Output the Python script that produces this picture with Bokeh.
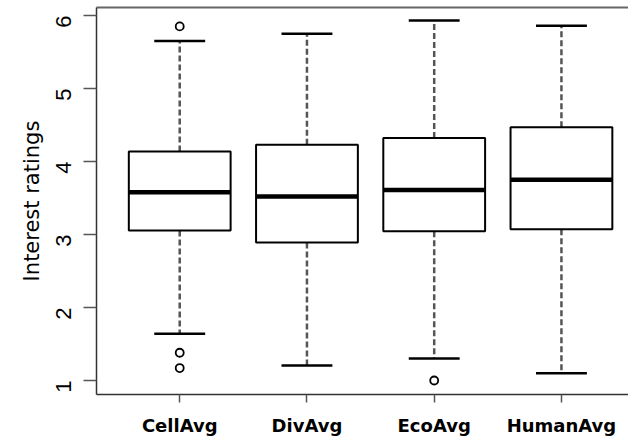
import math
from bokeh.plotting import figure
from bokeh.models import Range1d, FixedTicker, LinearAxis, ColumnDataSource
from bokeh.embed import file_html
from bokeh.resources import INLINE

categories = ["CellAvg", "DivAvg", "EcoAvg", "HumanAvg"]
lower_whisker = [1.64, 1.205, 1.30, 1.10]
q1 = [3.055, 2.89, 3.045, 3.07]
median = [3.58, 3.52, 3.61, 3.75]
q3 = [4.137, 4.23, 4.32, 4.47]
upper_whisker = [5.65, 5.75, 5.93, 5.86]
outlier_cat = ["CellAvg", "CellAvg", "CellAvg", "EcoAvg"]
outlier_val = [5.85, 1.38, 1.17, 1.0]
y_ticks = [1, 2, 3, 4, 5, 6]

box_w = 0.8
staple_w = 0.4

pos = [i + 1 for i in range(len(categories))]
src = ColumnDataSource(dict(
    x=pos,
    xl=[p_ - box_w / 2 for p_ in pos],
    xr=[p_ + box_w / 2 for p_ in pos],
    sl=[p_ - staple_w / 2 for p_ in pos],
    sr=[p_ + staple_w / 2 for p_ in pos],
    lw=lower_whisker, q1=q1, med=median, q3=q3, uw=upper_whisker,
))
out_src = ColumnDataSource(dict(
    x=[categories.index(c) + 1 for c in outlier_cat],
    y=outlier_val,
))

p = figure(width=628, height=440, output_backend="svg", toolbar_location=None,
           x_range=Range1d(0.346, 4.527), y_range=Range1d(0.808, 6.109),
           min_border_left=96, min_border_right=0, min_border_top=7,
           min_border_bottom=46)
p.outline_line_color = None
p.xgrid.visible = False
p.ygrid.visible = False
p.background_fill_color = "white"
p.border_fill_color = "white"

xax = p.below[0]
yax = p.left[0]

# top border line
top = LinearAxis(ticker=FixedTicker(ticks=[]), major_tick_out=0, major_tick_in=0,
                 minor_tick_out=0, minor_tick_in=0,
                 major_label_text_font_size="0px", major_label_standoff=0,
                 axis_line_color="#666666", axis_line_width=2)
p.add_layout(top, "above")

# axes
yax.ticker = FixedTicker(ticks=y_ticks)
yax.major_label_orientation = math.pi / 2
yax.major_label_text_font = "Liberation Sans"
yax.major_label_text_font_size = "22px"
yax.major_label_text_color = "black"
yax.major_label_standoff = 20
yax.major_tick_out = 13
yax.major_tick_in = 0
yax.minor_tick_line_color = None
yax.axis_label = "Interest ratings"
yax.axis_label_text_font = "DejaVu Sans"
yax.axis_label_text_font_style = "normal"
yax.axis_label_text_font_size = "21px"
yax.axis_label_text_color = "black"
yax.axis_label_standoff = 2

xax.ticker = FixedTicker(ticks=pos)
xax.major_label_overrides = {pp: c for pp, c in zip(pos, categories)}
xax.major_label_text_font = "DejaVu Sans"
xax.major_label_text_font_style = "bold"
xax.major_label_text_font_size = "18px"
xax.major_label_text_color = "black"
xax.major_label_standoff = 12
xax.major_tick_out = 8
xax.major_tick_in = 0
xax.minor_tick_line_color = None

for ax in (xax, yax):
    ax.axis_line_color = "#333333"
    ax.axis_line_width = 1.5
    ax.major_tick_line_color = "#555555"
    ax.major_tick_line_width = 1.5

# whiskers
p.segment(x0="x", y0="q3", x1="x", y1="uw", source=src, line_color="#555555",
          line_width=2.5, line_dash="6 3")
p.segment(x0="x", y0="q1", x1="x", y1="lw", source=src, line_color="#555555",
          line_width=2.5, line_dash="6 3")
# staples
p.segment(x0="sl", y0="uw", x1="sr", y1="uw", source=src, line_color="black", line_width=2.5)
p.segment(x0="sl", y0="lw", x1="sr", y1="lw", source=src, line_color="black", line_width=2.5)
# boxes
p.quad(left="xl", right="xr", bottom="q1", top="q3", source=src,
       fill_color="white", line_color="black", line_width=2)
# medians
p.segment(x0="xl", y0="med", x1="xr", y1="med", source=src, line_color="black", line_width=4.5)
# outliers
p.scatter(x="x", y="y", source=out_src, marker="circle", size=8,
          fill_color="white", line_color="black", line_width=1.8)

open("out.html", "w").write(file_html(p, INLINE))
